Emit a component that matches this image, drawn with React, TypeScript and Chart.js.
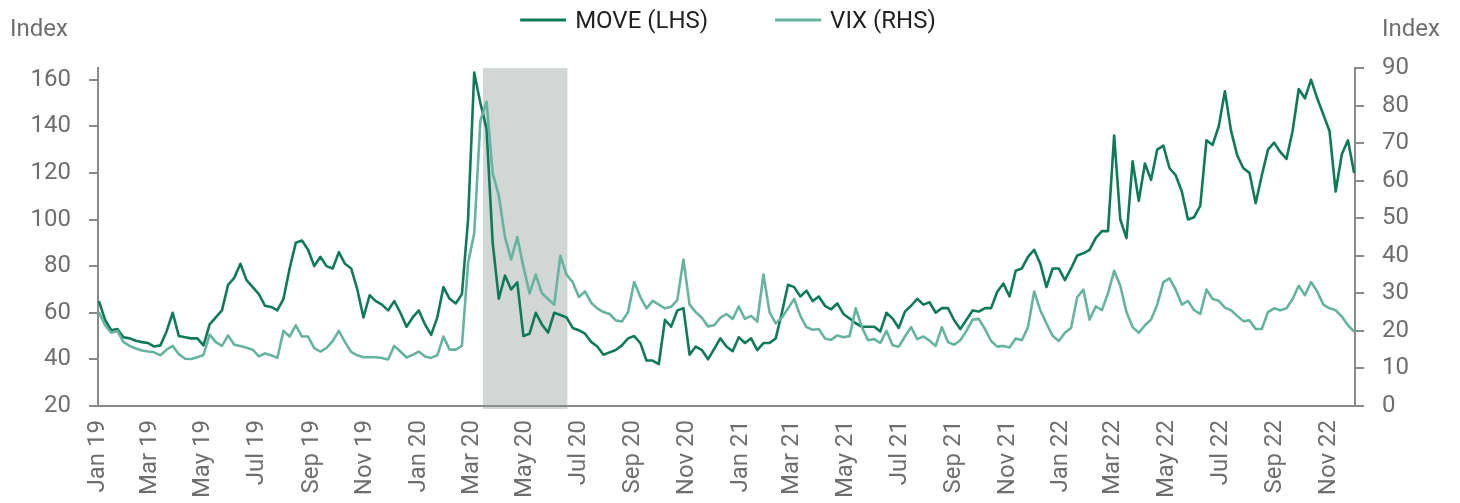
import React, { useEffect, useRef } from "react";
import { Chart, registerables } from "chart.js";

Chart.register(...registerables);

// ---- data ----
const AXIS_START = "2019-01-01";
const AXIS_END = "2022-12-01";
const FIRST_OBS = "2019-01-02"; // weekly observations
const STEP_DAYS = 7;
const SHADE_START = "2020-03-14";
const SHADE_END = "2020-06-18";

const TICK_DATES = [
  "2019-01-01", "2019-03-01", "2019-05-01", "2019-07-01", "2019-09-01", "2019-11-01",
  "2020-01-01", "2020-03-01", "2020-05-01", "2020-07-01", "2020-09-01", "2020-11-01",
  "2021-01-01", "2021-03-01", "2021-05-01", "2021-07-01", "2021-09-01", "2021-11-01",
  "2022-01-01", "2022-03-01", "2022-05-01", "2022-07-01", "2022-09-01", "2022-11-01",
];
const TICK_LABELS = [
  "Jan 19", "Mar 19", "May 19", "Jul 19", "Sep 19", "Nov 19",
  "Jan 20", "Mar 20", "May 20", "Jul 20", "Sep 20", "Nov 20",
  "Jan 21", "Mar 21", "May 21", "Jul 21", "Sep 21", "Nov 21",
  "Jan 22", "Mar 22", "May 22", "Jul 22", "Sep 22", "Nov 22",
];

const LEFT_TICKS = [20, 40, 60, 80, 100, 120, 140, 160];

const MOVE = [
  65, 57, 52.5, 53, 49.5, 49, 48, 47.4, 47, 45.5,
  46, 52, 60, 50, 49.5, 49, 49, 46, 55, 58,
  61, 72, 75, 81, 74, 71, 68, 63, 62.5, 61,
  66, 79, 90, 91, 87, 80, 84, 80, 79, 86,
  81, 79, 70, 58, 67.5, 65, 63.5, 61, 65, 60,
  54, 58, 61, 55, 50.5, 58, 71, 66, 64, 68,
  100, 163, 150, 139, 90, 66, 76, 70, 73, 50,
  51, 60, 55, 51.5, 60, 59, 58, 53.5, 52.5, 51,
  47.5, 45.5, 42, 43, 44, 46, 49, 50, 47, 39.5,
  39.5, 38, 57, 54, 61, 62, 42, 45.5, 44, 40,
  44.5, 49, 45.5, 43.5, 49.5, 47, 49, 44, 47, 47,
  49, 60, 72, 71, 67, 69.5, 65, 67, 63, 61.5,
  64, 59.5, 57.5, 55.5, 54, 54, 54, 52, 60, 57.5,
  53.5, 60.5, 63, 66, 63.5, 64.5, 60, 62, 62, 56.8,
  53, 57, 61, 60.5, 62, 62, 69, 72.5, 67, 78,
  79, 84, 87, 81, 71, 79, 79, 74, 79, 84.6,
  85.5, 87, 92, 95, 95, 136, 100, 92, 125, 108,
  124, 117, 130, 131.7, 122, 119, 112, 100, 101, 106,
  134, 132, 140, 155, 138, 127.5, 122, 120, 107, 119,
  130, 133, 129, 126, 138, 156, 152, 160, 152, 145,
  138, 112, 128, 134, 120,
];

const VIX = [
  25, 21.5, 19.5, 20, 17, 16, 15.3, 14.8, 14.5, 14.3,
  13.5, 15, 16, 13.8, 12.6, 12.5, 13, 13.6, 19, 17,
  16, 18.8, 16.3, 16, 15.5, 15, 13.2, 14, 13.5, 12.8,
  20, 18.5, 21.5, 18.5, 18.5, 15.4, 14.5, 15.5, 17.3, 20,
  17, 14.4, 13.5, 13, 13, 13, 12.8, 12.4, 16, 14.5,
  12.9, 13.6, 14.5, 13.2, 12.8, 13.5, 18.5, 15, 15, 16,
  38, 46, 76, 81, 62, 56, 45, 39, 45, 37,
  30, 35, 30, 28.5, 27, 40, 35, 33, 29, 30.5,
  27.5, 26, 25, 24.5, 22.8, 22.5, 25, 33, 29, 26,
  28, 27, 26, 26.4, 28.2, 39, 27, 25, 23.5, 21.2,
  21.5, 23.5, 24.5, 23.2, 26.5, 23.2, 24, 22.5, 35, 25,
  22, 23.5, 26, 28.5, 24, 21, 20.3, 20.5, 18, 17.6,
  18.8, 18.3, 18.6, 26, 21, 17.5, 17.8, 16.8, 20, 16.2,
  15.8, 18.5, 21, 17.8, 18.5, 17.4, 16, 21, 17, 16.3,
  17.5, 20, 23, 23.2, 20.5, 17.3, 15.8, 16, 15.6, 18,
  17.5, 21, 30.5, 25.5, 22, 18.7, 17.3, 19.5, 20.8, 29,
  31, 23, 26.5, 25.5, 30, 36, 32, 25, 21, 19.5,
  21.5, 23, 27, 33, 34, 31, 27, 28, 25.5, 24.5,
  31, 28.5, 28, 26.2, 25.5, 24, 22.6, 22.8, 20.5, 20.5,
  25, 26, 25.5, 26, 28.5, 32, 29.5, 33, 30.5, 27,
  26, 25.5, 23.8, 21.5, 19.8,
];

// ---- styles ----
const MOVE_COLOR = "#0f7a5a";
const VIX_COLOR = "#66b3a0";
const SHADE_COLOR = "#d2d6d5";
const AXIS_COLOR = "#8a8a8a";
const TICK_TEXT = "#6d6e70";
const LEGEND_TEXT = "#231f20";
const FONT_FAMILY = "Roboto, 'Liberation Sans', sans-serif";
const FONT_SIZE = 24;

const W = 1460;
const H = 503;

const DAY = 86400000;
const dayIndex = (s: string) => (Date.parse(s) - Date.parse(AXIS_START)) / DAY;

const shadePlugin = {
  id: "shade",
  beforeDraw(chart: any) {
    const { ctx, chartArea, scales } = chart;
    const x0 = scales.x.getPixelForValue(dayIndex(SHADE_START));
    const x1 = scales.x.getPixelForValue(dayIndex(SHADE_END));
    ctx.save();
    ctx.fillStyle = SHADE_COLOR;
    ctx.fillRect(x0, chartArea.top, x1 - x0, chartArea.bottom - chartArea.top + 3);
    ctx.restore();
  },
};

const decorPlugin = {
  id: "decor",
  afterDraw(chart: any) {
    const { ctx, scales } = chart;
    ctx.save();
    ctx.font = `${FONT_SIZE}px ${FONT_FAMILY}`;
    ctx.textBaseline = "middle";
    // axis unit titles
    ctx.fillStyle = TICK_TEXT;
    ctx.textAlign = "left";
    ctx.fillText("Index", 10, 30);
    ctx.fillText("Index", scales.y1.left + 27, 30);
    // legend
    const lineW = 46;
    const gap = 9;
    const itemGap = 67;
    const items = chart.data.datasets.map((d: any) => ({ text: d.label, color: d.borderColor }));
    const widths = items.map((it: any) => lineW + gap + ctx.measureText(it.text).width);
    const total = widths.reduce((a: number, b: number) => a + b, 0) + itemGap * (items.length - 1);
    let x = (chart.width - total) / 2 - 2;
    const y = 20;
    items.forEach((it: any, i: number) => {
      ctx.strokeStyle = it.color;
      ctx.lineWidth = 3;
      ctx.beginPath();
      ctx.moveTo(x, y);
      ctx.lineTo(x + lineW, y);
      ctx.stroke();
      ctx.fillStyle = LEGEND_TEXT;
      ctx.fillText(it.text, x + lineW + gap, y + 2);
      x += widths[i] + itemGap;
    });
    ctx.restore();
  },
};

export default function App() {
  const canvasRef = useRef<HTMLCanvasElement | null>(null);

  useEffect(() => {
    if (!canvasRef.current) return;
    const first = dayIndex(FIRST_OBS);
    const moveData = MOVE.map((v, i) => ({ x: first + STEP_DAYS * i, y: v }));
    const vixData = VIX.map((v, i) => ({ x: first + STEP_DAYS * i, y: v }));
    const font = { family: FONT_FAMILY, size: FONT_SIZE };

    const chart = new Chart(canvasRef.current, {
      type: "line",
      data: {
        datasets: [
          {
            label: "MOVE (LHS)",
            data: moveData,
            yAxisID: "y",
            borderColor: MOVE_COLOR,
            backgroundColor: MOVE_COLOR,
            borderWidth: 2.6,
            pointRadius: 0,
            tension: 0,
            borderJoinStyle: "round",
            order: 2,
          },
          {
            label: "VIX (RHS)",
            data: vixData,
            yAxisID: "y1",
            borderColor: VIX_COLOR,
            backgroundColor: VIX_COLOR,
            borderWidth: 2.6,
            pointRadius: 0,
            tension: 0,
            borderJoinStyle: "round",
            order: 1,
          },
        ],
      },
      options: {
        responsive: false,
        animation: false,
        layout: { padding: { top: 68, left: 0, right: 0, bottom: 0 } },
        plugins: {
          legend: { display: false },
          tooltip: { enabled: false },
        },
        scales: {
          x: {
            type: "linear",
            min: dayIndex(AXIS_START),
            max: dayIndex(AXIS_END),
            afterBuildTicks: (s: any) => {
              s.ticks = TICK_DATES.map((d) => ({ value: dayIndex(d) }));
            },
            afterFit: (s: any) => {
              s.height = H - 406;
            },
            ticks: {
              autoSkip: false,
              minRotation: 90,
              maxRotation: 90,
              padding: 14,
              color: TICK_TEXT,
              font,
              callback: (_v: any, i: number) => TICK_LABELS[i],
            },
            grid: { drawOnChartArea: false, drawTicks: false },
            border: { color: AXIS_COLOR, width: 2 },
          },
          y: {
            position: "left",
            min: 20,
            max: 165,
            afterBuildTicks: (s: any) => {
              s.ticks = LEFT_TICKS.map((v) => ({ value: v }));
            },
            afterFit: (s: any) => {
              s.width = 98;
            },
            ticks: { color: TICK_TEXT, font, padding: 18 },
            grid: {
              drawOnChartArea: false,
              drawTicks: true,
              tickLength: 9,
              color: AXIS_COLOR,
              lineWidth: 2,
            },
            border: { color: AXIS_COLOR, width: 2 },
          },
          y1: {
            position: "right",
            min: 0,
            max: 90,
            ticks: { stepSize: 10, color: TICK_TEXT, font, padding: 18 },
            afterFit: (s: any) => {
              s.width = W - 1355;
            },
            grid: {
              drawOnChartArea: false,
              drawTicks: true,
              tickLength: 9,
              color: AXIS_COLOR,
              lineWidth: 2,
            },
            border: { color: AXIS_COLOR, width: 2 },
          },
        },
      },
      plugins: [shadePlugin, decorPlugin],
    } as any);

    return () => chart.destroy();
  }, []);

  return (
    <div style={{ position: "absolute", left: 0, top: 0, width: W, height: H, background: "#fff" }}>
      <canvas ref={canvasRef} width={W} height={H} style={{ display: "block" }} />
    </div>
  );
}
